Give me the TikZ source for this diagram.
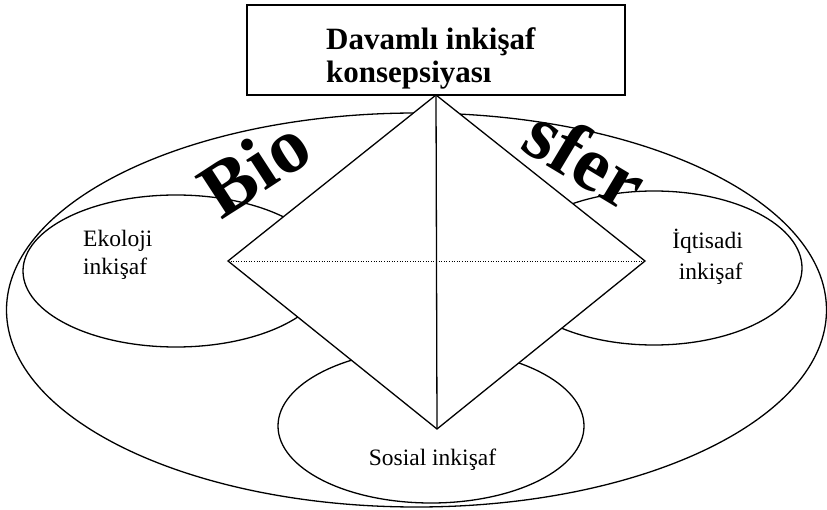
\documentclass[tikz,border=0pt]{standalone}
\usepackage{fontspec}
\setmainfont{Liberation Serif}
\usetikzlibrary{shapes.geometric}
\begin{document}
\begin{tikzpicture}[x=1pt,y=-1pt,
  outline/.style={draw, line width=1.3pt},
  area/.style={outline, ellipse, fill=white, inner sep=0pt},
  lbl/.style={inner sep=0pt, font=\fontsize{23.5}{28}\selectfont},
  headline/.style={anchor=base west, inner sep=0pt, font=\bfseries\fontsize{31}{34}\selectfont},
  big/.style={inner sep=0pt, font=\bfseries\fontsize{78}{78}\selectfont}]
\useasboundingbox (0,0) rectangle (827,510);

% biosphere
\node[area, minimum width=820pt, minimum height=394pt] (bio) at (416.5,310) {};

% three spheres of development
\node[area, minimum width=306pt, minimum height=152pt] (eco) at (176,271) {};
\node[area, minimum width=296pt, minimum height=154pt] (econ) at (654,268) {};
\node[area, minimum width=306pt, minimum height=154pt] (soc) at (431,426) {};

% concept box and the pyramid below it
\node[outline, fill=white, minimum width=378pt, minimum height=90pt, inner sep=0pt] (box) at (436,50) {};
\coordinate (top) at (436,95);
\coordinate (left) at (228,261);
\coordinate (right) at (645,261);
\coordinate (bottom) at (437,429);
\draw[outline, fill=white, line join=miter] (top) -- (right) -- (bottom) -- (left) -- cycle;
\draw[outline] (top) -- (bottom);
\draw[line width=0.9pt, dash pattern=on 1pt off 1.6pt] (left) -- (right);
\draw[outline] (box.south west) rectangle (box.north east);

% texts
\node[headline] (title) at (326,50) {Davamlı inkişaf};
\node[headline] (title2) at (326,83) {konsepsiyası};
\node[lbl, align=left, anchor=west] (ecot) at (83,255) {Ekoloji\\inkişaf};
\node[lbl, align=right, anchor=east] (econt) at (743,257) {İqtisadi\\[3pt]inkişaf};
\node[lbl, anchor=base] (soct) at (432.5,465) {Sosial inkişaf};
\node[big, rotate=33] (biot) at (254,167) {Bio};
\node[big, rotate=-31] (sfert) at (586,158) {sfer};
\end{tikzpicture}
\end{document}
